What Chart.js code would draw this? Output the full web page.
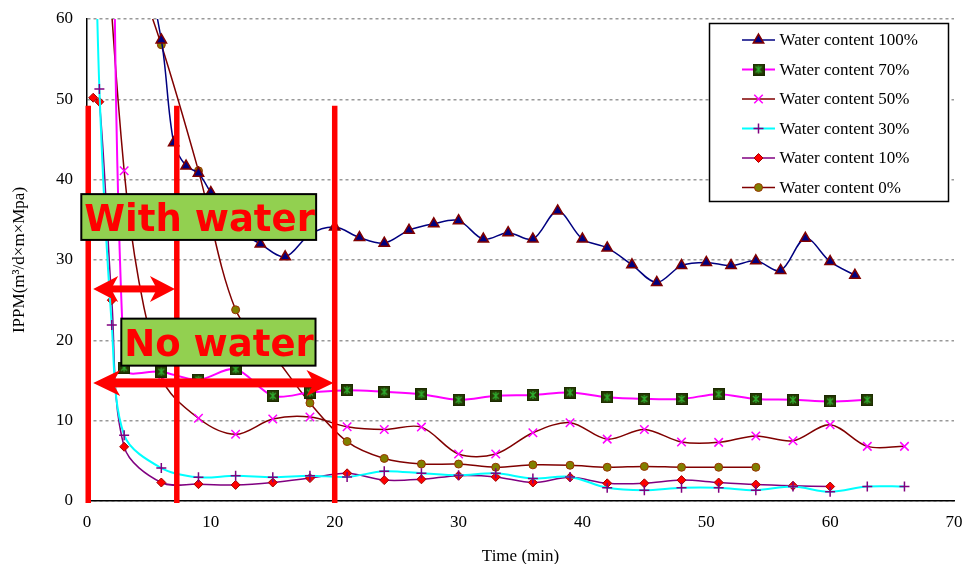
<!DOCTYPE html>
<html>
<head>
<meta charset="utf-8">
<title>IPPM vs time</title>
<script src="https://cdn.jsdelivr.net/npm/chart.js"></script>
<style>
  body { margin: 0; background: #fff; }
  canvas { display: block; }
</style>
</head>
<body>
<canvas id="chart" width="963" height="564"></canvas>
<script>
// readings: time (min) and IPPM for each water content
const time100 = [3, 6, 7, 8, 9, 10, 12, 14, 16, 18, 20, 22, 24, 26, 28, 30, 32, 34, 36, 38, 40, 42, 44, 46, 48, 50, 52, 54, 56, 58, 60, 62];
const ippm100 = [80, 57.4, 44.6, 41.7, 40.8, 38.4, 34, 32.0, 30.4, 33.2, 34.1, 32.8, 32.1, 33.7, 34.5, 34.9, 32.6, 33.4, 32.6, 36.1, 32.6, 31.5, 29.4, 27.2, 29.3, 29.7, 29.3, 29.9, 28.7, 32.7, 29.8, 28.1];

const time70 = [2, 3, 6, 9, 12, 15, 18, 21, 24, 27, 30, 33, 36, 39, 42, 45, 48, 51, 54, 57, 60, 63];
const ippm70 = [150, 16.6, 16.1, 15.1, 16.4, 13.1, 13.5, 13.8, 13.6, 13.3, 12.6, 13.1, 13.2, 13.5, 12.9, 12.7, 12.7, 13.3, 12.7, 12.6, 12.4, 12.6];

const time50 = [0, 3, 6, 9, 12, 15, 18, 21, 24, 27, 30, 33, 36, 39, 42, 45, 48, 51, 54, 57, 60, 63, 66];
const ippm50 = [115, 41.1, 15.5, 10.3, 8.3, 10.2, 10.45, 9.25, 8.9, 9.2, 5.85, 5.85, 8.5, 9.75, 7.7, 8.9, 7.35, 7.3, 8.1, 7.5, 9.5, 6.8, 6.8];

const time30 = [0.5, 1, 2, 3, 6, 9, 12, 15, 18, 21, 24, 27, 30, 33, 36, 39, 42, 45, 48, 51, 54, 57, 60, 63, 66];
const ippm30 = [85, 51.3, 21.9, 8.2, 4.1, 2.95, 3.15, 2.95, 3.15, 3.0, 3.7, 3.45, 3.2, 3.45, 2.8, 3.0, 1.65, 1.35, 1.65, 1.65, 1.35, 1.8, 1.15, 1.8, 1.8];

const time10 = [0.5, 1, 2, 3, 6, 9, 12, 15, 18, 21, 24, 27, 30, 33, 36, 39, 42, 45, 48, 51, 54, 57, 60];
const ippm10 = [50.2, 49.7, 25.0, 6.75, 2.3, 2.1, 2.0, 2.3, 2.85, 3.45, 2.6, 2.7, 3.15, 3.0, 2.3, 2.95, 2.2, 2.2, 2.6, 2.3, 2.05, 1.9, 1.8];

const time0 = [3, 6, 9, 12, 15, 18, 21, 24, 27, 30, 33, 36, 39, 42, 45, 48, 51, 54];
const ippm0 = [70, 56.8, 41.1, 23.8, 18.3, 12.2, 7.4, 5.3, 4.6, 4.6, 4.2, 4.5, 4.45, 4.2, 4.3, 4.2, 4.2, 4.2];

const seriesLabels = ['Water content 100%', 'Water content 70%', 'Water content 50%',
    'Water content 30%', 'Water content 10%', 'Water content 0%'];

// annotation spots, in axis units
const splitTimes = [0.1, 7.25, 20];
const splitTop = 49.2, splitBottom = -0.25;
const arrows = [
    {from: 0.5, to: 7.1, at: 26.4, head: 25, half: 13, shaft: 7},
    {from: 0.5, to: 19.9, at: 14.7, head: 27, half: 13, shaft: 9}
];
const notes = [
    {text: 'With water', x0: -0.46, x1: 18.5, top: 38.2, bottom: 32.5},
    {text: 'No water', x0: 2.77, x1: 18.45, top: 22.7, bottom: 16.85}
];

const serif = '"Liberation Serif", "Times New Roman", serif';

// square marker with an asterisk, like the 70% series
function starSquare() {
    const c = document.createElement('canvas');
    c.width = 12;
    c.height = 12;
    const g = c.getContext('2d');
    g.fillStyle = '#263a04';
    g.fillRect(0, 0, 12, 12);
    g.strokeStyle = '#1b2a00';
    g.lineWidth = 1;
    g.strokeRect(0.5, 0.5, 11, 11);
    g.strokeStyle = '#2fae2f';
    g.lineWidth = 1.3;
    g.beginPath();
    g.moveTo(3, 3); g.lineTo(9, 9);
    g.moveTo(9, 3); g.lineTo(3, 9);
    g.moveTo(6, 2); g.lineTo(6, 10);
    g.stroke();
    return c;
}

function series(label, times, values, style) {
    return Object.assign({
        label: label,
        data: times.map((t, i) => ({x: t, y: values[i]})),
        tension: 0.33,
        fill: false
    }, style);
}

const datasets = [
    series(seriesLabels[0], time100, ippm100, {
        borderColor: '#000080', borderWidth: 1.5,
        pointStyle: 'triangle', pointRadius: 6,
        pointBackgroundColor: '#000080', pointBorderColor: '#800000', pointBorderWidth: 1.5
    }),
    series(seriesLabels[1], time70, ippm70, {
        borderColor: '#FF00FF', borderWidth: 2,
        pointStyle: starSquare(), pointRadius: 6
    }),
    series(seriesLabels[2], time50, ippm50, {
        borderColor: '#800000', borderWidth: 1.5,
        pointStyle: 'crossRot', pointRadius: 6,
        pointBackgroundColor: '#FF00FF', pointBorderColor: '#FF00FF', pointBorderWidth: 1.5
    }),
    series(seriesLabels[3], time30, ippm30, {
        borderColor: '#00FFFF', borderWidth: 2,
        pointStyle: 'cross', pointRadius: 5,
        pointBackgroundColor: '#800080', pointBorderColor: '#800080', pointBorderWidth: 1.5
    }),
    series(seriesLabels[4], time10, ippm10, {
        borderColor: '#800080', borderWidth: 1.5,
        pointStyle: 'rectRot', pointRadius: 4.5,
        pointBackgroundColor: '#FF0000', pointBorderColor: '#A00000', pointBorderWidth: 1
    }),
    series(seriesLabels[5], time0, ippm0, {
        borderColor: '#800000', borderWidth: 1.5,
        pointStyle: 'circle', pointRadius: 4,
        pointBackgroundColor: '#808000', pointBorderColor: '#993300', pointBorderWidth: 1
    })
];

const boxLegend = {
    id: 'boxLegend',
    afterDraw(chart) {
        const ctx = chart.ctx;
        ctx.save();
        ctx.fillStyle = '#fff';
        ctx.fillRect(709.5, 23.5, 239, 178);
        ctx.strokeStyle = '#000';
        ctx.lineWidth = 1.5;
        ctx.strokeRect(709.5, 23.5, 239, 178);
        ctx.font = '17px ' + serif;
        ctx.textBaseline = 'middle';
        chart.data.datasets.forEach((ds, i) => {
            const y = 40 + i * 29.5;
            ctx.strokeStyle = ds.borderColor;
            ctx.lineWidth = ds.borderWidth;
            ctx.beginPath();
            ctx.moveTo(742, y);
            ctx.lineTo(775, y);
            ctx.stroke();
            ctx.fillStyle = ds.pointBackgroundColor || '#000';
            ctx.strokeStyle = ds.pointBorderColor || '#000';
            ctx.lineWidth = ds.pointBorderWidth || 1;
            Chart.helpers.drawPoint(ctx, {
                pointStyle: ds.pointStyle, radius: ds.pointRadius,
                rotation: 0, borderWidth: ds.pointBorderWidth || 1
            }, 758.5, y);
            ctx.fillStyle = '#000';
            ctx.fillText(ds.label, 779.5, y + 1);
        });
        ctx.restore();
    }
};

function drawArrow(ctx, x1, x2, y, a) {
    const notch = a.head * 0.72;
    ctx.fillRect(x1 + notch - 1, y - a.shaft / 2, x2 - x1 - 2 * notch + 2, a.shaft);
    ctx.beginPath();
    ctx.moveTo(x1, y);
    ctx.lineTo(x1 + a.head, y - a.half);
    ctx.lineTo(x1 + notch, y);
    ctx.lineTo(x1 + a.head, y + a.half);
    ctx.closePath();
    ctx.moveTo(x2, y);
    ctx.lineTo(x2 - a.head, y - a.half);
    ctx.lineTo(x2 - notch, y);
    ctx.lineTo(x2 - a.head, y + a.half);
    ctx.closePath();
    ctx.fill();
}

const waterNotes = {
    id: 'waterNotes',
    afterDraw(chart) {
        const ctx = chart.ctx;
        const xs = chart.scales.x, ys = chart.scales.y;
        ctx.save();
        ctx.strokeStyle = '#FF0000';
        ctx.lineWidth = 5.5;
        splitTimes.forEach(t => {
            const px = xs.getPixelForValue(t);
            ctx.beginPath();
            ctx.moveTo(px, ys.getPixelForValue(splitTop));
            ctx.lineTo(px, ys.getPixelForValue(splitBottom));
            ctx.stroke();
        });
        ctx.fillStyle = '#FF0000';
        arrows.forEach(a => {
            drawArrow(ctx, xs.getPixelForValue(a.from), xs.getPixelForValue(a.to), ys.getPixelForValue(a.at), a);
        });
        notes.forEach(n => {
            const left = xs.getPixelForValue(n.x0), right = xs.getPixelForValue(n.x1);
            const top = ys.getPixelForValue(n.top), bottom = ys.getPixelForValue(n.bottom);
            ctx.fillStyle = '#92D050';
            ctx.fillRect(left, top, right - left, bottom - top);
            ctx.strokeStyle = '#000';
            ctx.lineWidth = 2;
            ctx.strokeRect(left, top, right - left, bottom - top);
            ctx.fillStyle = '#FF0000';
            ctx.font = 'bold 37px "DejaVu Sans", sans-serif';
            ctx.textBaseline = 'alphabetic';
            ctx.fillText(n.text, left + 3, (top + bottom) / 2 + 14);
        });
        ctx.restore();
    }
};

new Chart(document.getElementById('chart').getContext('2d'), {
    type: 'line',
    data: {datasets: datasets},
    plugins: [boxLegend, waterNotes],
    options: {
        responsive: false,
        animation: false,
        layout: {padding: {top: 19, right: 9, left: 0, bottom: 0}},
        elements: {line: {capBezierPoints: false}},
        plugins: {
            legend: {display: false},
            tooltip: {enabled: false}
        },
        scales: {
            x: {
                type: 'linear',
                min: 0,
                max: 70,
                ticks: {stepSize: 10, padding: 11, color: '#000', font: {family: serif, size: 17}},
                grid: {display: false, drawTicks: false},
                border: {display: true, color: '#000', width: 1.5},
                title: {
                    display: true, text: 'Time (min)', color: '#000',
                    font: {family: serif, size: 17}, padding: {top: 0, bottom: -3}
                },
                afterFit(scale) {
                    scale.height = 63;
                    scale.paddingLeft = 0;
                    scale.paddingRight = 0;
                }
            },
            y: {
                type: 'linear',
                min: 0,
                max: 60,
                ticks: {stepSize: 10, padding: 14, color: '#000', font: {family: serif, size: 17}},
                grid: {color: '#999', lineWidth: 1.5, drawTicks: false},
                border: {display: true, color: '#000', width: 1.5, dash: [3, 3]},
                title: {
                    display: true, text: 'IPPM(m³/d×m×Mpa)', color: '#000',
                    font: {family: serif, size: 17}, padding: {top: 9, bottom: 0}
                },
                afterFit(scale) {
                    scale.width = 87;
                    scale.paddingTop = 0;
                    scale.paddingBottom = 0;
                }
            }
        }
    }
});
</script>
</body>
</html>
